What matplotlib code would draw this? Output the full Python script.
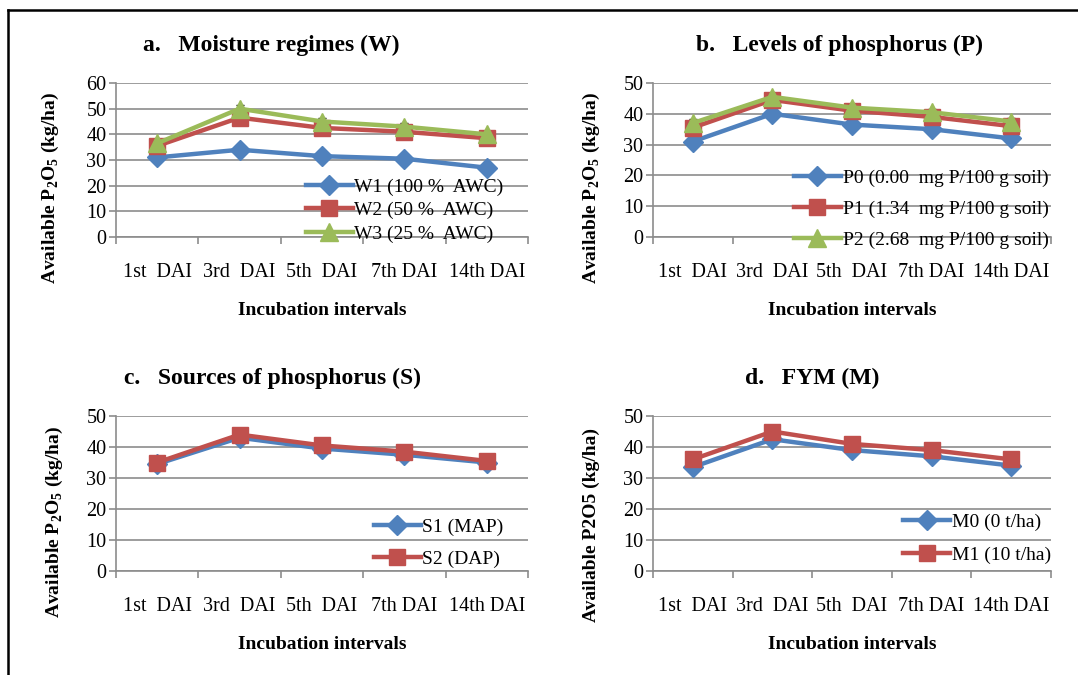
import matplotlib.pyplot as plt
from matplotlib.lines import Line2D

plt.rcParams['font.family'] = 'Liberation Serif'
plt.rcParams['mathtext.fontset'] = 'custom'
plt.rcParams['mathtext.rm'] = 'Liberation Serif'
plt.rcParams['mathtext.bf'] = 'Liberation Serif:bold'

# Datos
intervalos = ['1st  DAI', '3rd  DAI', '5th  DAI', '7th DAI', '14th DAI']

w_labels = ['W1 (100 %  AWC)', 'W2 (50 %  AWC)', 'W3 (25 %  AWC)']
w1 = [31.0, 34.0, 31.5, 30.5, 27.0]
w2 = [35.5, 46.5, 42.5, 41.0, 38.5]
w3 = [36.5, 50.0, 45.0, 43.0, 40.0]
w_err = [1.0, 1.5, 1.5, 1.5, 1.2]

p_labels = ['P0 (0.00  mg P/100 g soil)', 'P1 (1.34  mg P/100 g soil)', 'P2 (2.68  mg P/100 g soil)']
p0 = [31.0, 40.0, 36.5, 35.0, 32.0]
p1 = [35.5, 44.5, 41.0, 39.0, 36.0]
p2 = [37.0, 45.5, 42.0, 40.5, 37.5]
p_err = [1.2, 1.2, 1.2, 1.2, 1.2]

s_labels = ['S1 (MAP)', 'S2 (DAP)']
s1 = [34.5, 43.0, 39.5, 37.5, 35.0]
s2 = [35.0, 44.0, 40.5, 38.5, 35.5]
s_err = [1.0, 1.0, 1.0, 1.0, 1.0]

m_labels = ['M0 (0 t/ha)', 'M1 (10 t/ha)']
m0 = [33.5, 42.5, 39.0, 37.0, 34.0]
m1 = [36.0, 45.0, 41.0, 39.0, 36.0]
m_err = [1.0, 1.2, 1.0, 1.0, 1.0]

azul = '#4F81BD'
rojo = '#C0504D'
verde = '#9BBB59'
gris = '#8C8C8C'

estilos = [(azul, 'D', 10), (rojo, 's', 11), (verde, '^', 13)]

ylabel_p2o5 = r'Available P$_{\mathbf{2}}$O$_{\mathbf{5}}$ (kg/ha)'

fig = plt.figure(figsize=(10.78, 6.75), dpi=100)

def px(x0, x1, ytop, ybot):
    return [x0 / 1078, 1 - ybot / 675, (x1 - x0) / 1078, (ybot - ytop) / 675]

def panel(rect, titulo, tpos, series, etiquetas, err, ymax, ylabel, ypos, legend_anchor, spacing):
    ax = fig.add_axes(rect)
    x = range(len(intervalos))
    handles = []
    for i, (vals, lab) in enumerate(zip(series, etiquetas)):
        color, mk, ms = estilos[i]
        ax.errorbar(x, vals, yerr=err, fmt='none', ecolor='black', elinewidth=0.8,
                    capsize=3, zorder=2)
        ax.plot(x, vals, color=color, marker=mk, markersize=ms, lw=3.2, zorder=3 + i)
        handles.append(Line2D([], [], color=color, marker=mk, markersize=ms, lw=3.2))
    ax.set_xlim(-0.5, len(intervalos) - 0.5)
    ax.set_ylim(0, ymax)
    ax.set_yticks(range(0, ymax + 1, 10))
    ax.set_xticks([i - 0.5 for i in range(len(intervalos) + 1)])
    ax.set_xticklabels([])
    ax.set_xticks(list(x), minor=True)
    ax.set_xticklabels(intervalos, minor=True, fontsize=14.5)
    ax.tick_params(axis='x', which='minor', length=0, pad=19)
    ax.tick_params(axis='x', which='major', length=5, color=gris, width=1.2)
    ax.tick_params(axis='y', length=5, color=gris, width=1.2, labelsize=14.5, pad=2)
    ax.grid(axis='y', color=gris, lw=1.2)
    ax.set_axisbelow(True)
    for s in ['top', 'right']:
        ax.spines[s].set_visible(False)
    for s in ['left', 'bottom']:
        ax.spines[s].set_color(gris)
        ax.spines[s].set_linewidth(1.2)
    fig.text(tpos[0] / 1078, 1 - tpos[1] / 675, titulo, fontsize=17, fontweight='bold',
             ha='center', va='center')
    ax.set_xlabel('Incubation intervals', fontsize=14, fontweight='bold', labelpad=14)
    ax.set_ylabel(ylabel, fontsize=14, fontweight='bold')
    ax.yaxis.set_label_coords(*ypos)
    ax.legend(handles, etiquetas, loc='lower right', bbox_to_anchor=legend_anchor,
              frameon=False, fontsize=14, handlelength=2.4, handletextpad=0.1,
              labelspacing=spacing, borderaxespad=0)
    return ax

panel(px(116, 528, 83, 237), 'a.   Moisture regimes (W)', (271, 45), [w1, w2, w3], w_labels,
      w_err, 60, ylabel_p2o5, (-0.133, 0.318), (0.96, -0.088), 0.3)
panel(px(653, 1051, 83, 237), 'b.   Levels of phosphorus (P)', (840, 45), [p0, p1, p2], p_labels,
      p_err, 50, ylabel_p2o5, (-0.128, 0.318), (1.013, -0.13), 0.7)
panel(px(116, 528, 416, 571), 'c.   Sources of phosphorus (S)', (273, 378), [s1, s2], s_labels,
      s_err, 50, ylabel_p2o5, (-0.124, 0.316), (0.96, -0.032), 0.75)
panel(px(653, 1051, 416, 571), 'd.   FYM (M)', (812, 378), [m0, m1], m_labels,
      m_err, 50, 'Available P2O5 (kg/ha)', (-0.133, 0.30), (1.02, -0.005), 0.8)

# Marco negro (lado superior e izquierdo)
fig.add_artist(Line2D([8 / 1078, 8 / 1078], [0, 1 - 10 / 675], color='black', lw=1.8))
fig.add_artist(Line2D([8 / 1078, 1], [1 - 10 / 675, 1 - 10 / 675], color='black', lw=1.8))

fig.savefig('out.png', dpi=100, facecolor='white')
